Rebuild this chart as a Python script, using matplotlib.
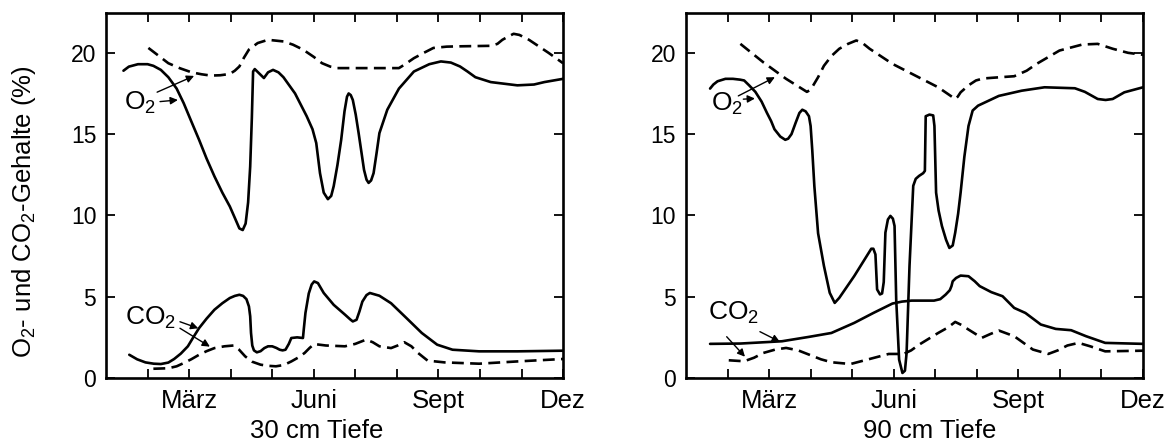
import matplotlib
matplotlib.use("Agg")
import matplotlib.pyplot as plt

plt.rcParams['font.family'] = ['Liberation Sans', 'DejaVu Sans']
plt.rcParams['mathtext.fontset'] = 'custom'
plt.rcParams['mathtext.rm'] = 'Liberation Sans'

# ---------- Month axis (0 = Jan ... 11 = Dez) ----------
month_ticks = list(range(1, 12))
month_labels = ['', 'März', '', '', 'Juni', '', '', 'Sept', '', '', 'Dez']
y_ticks = [0, 5, 10, 15, 20]

# ---------- 30 cm Tiefe ----------
o2_30_x = [0.42, 0.55, 0.77, 1.0, 1.14, 1.32, 1.5, 1.7, 1.87, 2.05, 2.24, 2.42, 2.61, 2.8, 2.98,
           3.1, 3.21, 3.29, 3.36, 3.42, 3.47, 3.51, 3.54, 3.58, 3.68, 3.8, 3.9, 4.02, 4.15,
           4.27, 4.55, 4.83, 4.97, 5.06, 5.15, 5.24, 5.34, 5.42, 5.48, 5.57, 5.66, 5.74, 5.8,
           5.84, 5.89, 5.94, 6.01, 6.08, 6.21, 6.27, 6.32, 6.38, 6.44, 6.51, 6.58, 6.77, 7.05,
           7.41, 7.78, 8.06, 8.3, 8.52, 8.7, 8.89, 9.26, 9.9, 10.3, 10.55, 11.0]
o2_30_y = [18.9, 19.15, 19.3, 19.3, 19.2, 18.95, 18.5, 17.8, 16.9, 15.8, 14.65, 13.5, 12.4, 11.4, 10.55,
           9.85, 9.2, 9.1, 9.5, 10.8, 13.0, 16.0, 18.85, 19.0, 18.75, 18.45, 18.8, 18.95, 18.8,
           18.5, 17.5, 16.1, 15.3, 14.45, 12.6, 11.4, 11.0, 11.2, 11.8, 13.1, 14.65, 16.4, 17.3,
           17.5, 17.4, 17.1, 16.2, 15.06, 12.8, 12.2, 12.0, 12.15, 12.6, 13.8, 15.06, 16.5, 17.8,
           18.85, 19.3, 19.47, 19.4, 19.16, 18.85, 18.5, 18.2, 18.0, 18.05, 18.2, 18.4]

o2d_30_x = [1.02, 1.25, 1.5, 1.78, 2.06, 2.3, 2.52, 2.75, 2.98, 3.1, 3.21, 3.32, 3.44, 3.65, 3.9,
            4.27, 4.5, 4.74, 5.0, 5.2, 5.4, 5.57, 6.3, 7.05, 7.2, 7.41, 7.65, 7.88, 8.2, 8.52,
            9.26, 9.42, 9.54, 9.68, 9.81, 9.95, 10.18, 10.65, 11.0]
o2d_30_y = [20.3, 19.85, 19.36, 19.05, 18.8, 18.68, 18.6, 18.62, 18.7, 18.9, 19.16, 19.7, 20.2, 20.6, 20.8,
            20.7, 20.5, 20.2, 19.75, 19.36, 19.15, 19.06, 19.06, 19.06, 19.3, 19.67, 20.0, 20.3, 20.38, 20.4,
            20.43, 20.55, 20.8, 21.0, 21.17, 21.1, 20.8, 20.0, 19.36]

co2_30_x = [0.56, 0.75, 0.95, 1.15, 1.32, 1.5, 1.64, 1.8, 1.97, 2.1, 2.24, 2.42, 2.61, 2.8, 2.98,
            3.1, 3.21, 3.3, 3.38, 3.44, 3.47, 3.49, 3.52, 3.56, 3.63, 3.72, 3.81, 3.9, 4.0,
            4.1, 4.18, 4.25, 4.32, 4.4, 4.46, 4.6, 4.74, 4.76, 4.8, 4.88, 4.95, 5.01, 5.1,
            5.24, 5.48, 5.75, 5.88, 5.94, 6.03, 6.1, 6.17, 6.27, 6.35, 6.58, 6.86, 7.23, 7.6,
            7.97, 8.34, 8.98, 9.9, 11.0]
co2_30_y = [1.43, 1.15, 0.96, 0.88, 0.86, 0.95, 1.17, 1.5, 1.95, 2.5, 3.07, 3.65, 4.2, 4.6, 4.92,
            5.05, 5.12, 5.05, 4.85, 4.4, 3.8, 2.77, 2.0, 1.7, 1.58, 1.65, 1.84, 1.95, 1.95,
            1.85, 1.74, 1.7, 1.74, 2.1, 2.46, 2.5, 2.46, 3.0, 4.0, 5.2, 5.75, 5.94, 5.84,
            5.23, 4.5, 3.9, 3.6, 3.48, 3.58, 4.1, 4.7, 5.1, 5.23, 5.06, 4.6, 3.69, 2.77,
            2.05, 1.74, 1.64, 1.64, 1.68]

co2d_30_x = [1.14, 1.5, 1.7, 1.87, 2.05, 2.24, 2.42, 2.61, 2.85, 3.07, 3.2, 3.35, 3.52, 3.72, 3.9,
             4.09, 4.28, 4.46, 4.62, 4.78, 4.9, 5.01, 5.29, 5.75, 6.0, 6.26, 6.42, 6.58, 6.86,
             7.02, 7.18, 7.35, 7.51, 7.74, 8.15, 8.98, 9.9, 11.0]
co2d_30_y = [0.57, 0.6, 0.72, 0.92, 1.15, 1.43, 1.65, 1.84, 1.95, 2.0, 1.75, 1.33, 1.0, 0.82, 0.75,
             0.72, 0.8, 1.02, 1.25, 1.54, 1.85, 2.09, 2.0, 1.95, 2.1, 2.36, 2.2, 1.95, 1.84,
             2.0, 2.2, 1.95, 1.54, 1.07, 0.96, 0.88, 1.02, 1.17]

# ---------- 90 cm Tiefe ----------
o2_90_x = [0.58, 0.66, 0.76, 0.95, 1.13, 1.3, 1.4, 1.52, 1.67, 1.82, 1.95, 2.05, 2.13, 2.27, 2.39,
           2.46, 2.54, 2.64, 2.73, 2.8, 2.88, 2.96, 3.0, 3.04, 3.09, 3.18, 3.32, 3.46, 3.58,
           3.69, 4.05, 4.46, 4.51, 4.56, 4.6, 4.67, 4.72, 4.76, 4.8, 4.86, 4.92, 4.98, 5.02,
           5.06, 5.13, 5.21, 5.27, 5.31, 5.38, 5.47, 5.53, 5.61, 5.71, 5.75, 5.77, 5.86, 5.95,
           5.98, 6.02, 6.08, 6.16, 6.26, 6.34, 6.42, 6.48, 6.55, 6.61, 6.7, 6.8, 6.9, 7.03,
           7.53, 8.08, 8.63, 9.36, 9.6, 9.91, 10.1, 10.27, 10.55, 11.0]
o2_90_y = [17.8, 18.05, 18.25, 18.4, 18.4, 18.35, 18.3, 18.0, 17.6, 17.0, 16.3, 15.8, 15.3, 14.85, 14.65,
           14.72, 15.0, 15.7, 16.3, 16.5, 16.4, 16.1, 15.5, 14.0, 11.8, 8.9, 6.9, 5.24, 4.62,
           4.93, 6.27, 7.95, 7.95, 7.6, 5.45, 5.14, 5.2, 5.9, 8.94, 9.75, 9.97, 9.8, 9.35,
           4.83, 1.13, 0.31, 0.45, 1.54, 6.88, 11.82, 12.25, 12.43, 12.6, 12.74, 16.1, 16.2, 16.15,
           15.5, 11.4, 10.3, 9.35, 8.5, 8.0, 8.15, 8.94, 10.1, 11.4, 13.6, 15.5, 16.45, 16.75,
           17.35, 17.67, 17.88, 17.82, 17.6, 17.16, 17.1, 17.16, 17.57, 17.88]

o2d_90_x = [1.31, 1.86, 2.41, 2.91, 2.98, 3.05, 3.18, 3.32, 3.5, 3.69, 3.9, 4.1, 4.25, 4.42, 4.97,
            5.52, 6.07, 6.48, 6.54, 6.61, 6.8, 6.98, 7.15, 7.35, 7.9, 8.2, 8.44, 8.99, 9.54,
            9.91, 10.27, 10.64, 11.0]
o2d_90_y = [20.55, 19.42, 18.4, 17.6, 17.7, 17.94, 18.5, 19.2, 19.8, 20.25, 20.55, 20.76, 20.6, 20.25, 19.32,
            18.6, 17.88, 17.16, 17.3, 17.57, 18.0, 18.3, 18.42, 18.46, 18.56, 18.9, 19.32, 20.14, 20.51,
            20.55, 20.25, 20.0, 19.88]

co2_90_x = [0.58, 1.31, 2.31, 2.96, 3.5, 4.05, 4.51, 4.97, 5.2, 5.43, 5.97, 6.12, 6.25, 6.35, 6.39,
            6.42, 6.5, 6.61, 6.8, 6.95, 7.07, 7.35, 7.62, 7.9, 8.17, 8.54, 8.9, 9.27, 9.63,
            10.09, 11.0]
co2_90_y = [2.1, 2.12, 2.26, 2.53, 2.77, 3.39, 4.0, 4.58, 4.7, 4.76, 4.76, 4.85, 5.13, 5.4, 5.65,
            5.95, 6.15, 6.3, 6.26, 5.95, 5.65, 5.28, 5.03, 4.31, 4.0, 3.29, 3.02, 2.94, 2.57,
            2.16, 2.1]

co2d_90_x = [1.03, 1.4, 1.64, 1.86, 2.15, 2.41, 2.7, 2.96, 3.25, 3.5, 3.96, 4.42, 4.88, 5.24, 5.42,
             5.61, 6.07, 6.3, 6.48, 6.64, 6.8, 7.12, 7.32, 7.53, 7.9, 8.35, 8.72, 8.95, 9.18,
             9.45, 9.73, 10.09, 11.0]
co2d_90_y = [1.09, 1.03, 1.25, 1.54, 1.75, 1.85, 1.7, 1.44, 1.15, 0.97, 0.86, 1.17, 1.48, 1.48, 1.7,
             2.05, 2.77, 3.1, 3.45, 3.25, 2.98, 2.47, 2.7, 2.92, 2.57, 1.75, 1.48, 1.7, 2.0,
             2.16, 1.95, 1.64, 1.68]

fig = plt.figure(figsize=(11.74, 4.43), dpi=100)
ax1 = fig.add_axes([0.0903, 0.1467, 0.3893, 0.824])
ax2 = fig.add_axes([0.5843, 0.1467, 0.3893, 0.824])

solid = dict(color='black', lw=1.9, solid_joinstyle='round', solid_capstyle='round')
dashed = dict(color='black', lw=1.9, linestyle=(0, (4.5, 2.4)))

ax1.plot(o2_30_x, o2_30_y, **solid)
ax1.plot(o2d_30_x, o2d_30_y, **dashed)
ax1.plot(co2_30_x, co2_30_y, **solid)
ax1.plot(co2d_30_x, co2d_30_y, **dashed)

ax2.plot(o2_90_x, o2_90_y, **solid)
ax2.plot(o2d_90_x, o2d_90_y, **dashed)
ax2.plot(co2_90_x, co2_90_y, **solid)
ax2.plot(co2d_90_x, co2d_90_y, **dashed)

arrow = dict(arrowstyle='-|>', color='black', lw=1.0, mutation_scale=11, shrinkA=0, shrinkB=0)

# labels with arrows to the curves
gas = dict(fontsize=19, ha='left', va='baseline')
ax1.text(0.44, 16.5, r'O$\mathregular{_2}$', **gas)
ax1.annotate('', xy=(2.12, 18.58), xytext=(1.23, 17.58), arrowprops=arrow)
ax1.annotate('', xy=(1.73, 17.1), xytext=(1.30, 17.0), arrowprops=arrow)
ax1.text(0.46, 3.26, r'CO$\mathregular{_2}$', **gas)
ax1.annotate('', xy=(2.22, 3.06), xytext=(1.78, 3.46), arrowprops=arrow)
ax1.annotate('', xy=(2.5, 1.93), xytext=(1.78, 3.06), arrowprops=arrow)

ax2.text(0.61, 16.43, r'O$\mathregular{_2}$', **gas)
ax2.annotate('', xy=(2.14, 18.5), xytext=(1.26, 17.35), arrowprops=arrow)
ax2.annotate('', xy=(1.66, 17.19), xytext=(1.38, 17.15), arrowprops=arrow)
ax2.text(0.53, 3.57, r'CO$\mathregular{_2}$', **gas)
ax2.annotate('', xy=(2.26, 2.23), xytext=(1.78, 2.85), arrowprops=arrow)
ax2.annotate('', xy=(1.42, 1.31), xytext=(0.98, 2.54), arrowprops=arrow)

for ax in (ax1, ax2):
    ax.set_xlim(0, 11)
    ax.set_ylim(0, 22.45)
    ax.set_xticks(month_ticks)
    ax.set_xticklabels(month_labels, fontsize=18.5)
    ax.set_yticks(y_ticks)
    ax.set_yticklabels([str(v) for v in y_ticks], fontsize=16.5)
    ax.tick_params(axis='both', direction='in', length=6.5, width=1.3,
                   top=True, right=True)
    ax.tick_params(axis='x', pad=8)
    ax.tick_params(axis='y', pad=7)
    for sp in ax.spines.values():
        sp.set_linewidth(1.9)

fig.text(317 / 1174, 1 - 431 / 443, '30 cm Tiefe', fontsize=18.5, ha='center', va='center')
fig.text(930 / 1174, 1 - 431 / 443, '90 cm Tiefe', fontsize=18.5, ha='center', va='center')
fig.text(24 / 1174, 1 - 212 / 443, r'O$\mathregular{_2}$- und CO$\mathregular{_2}$-Gehalte (%)',
         fontsize=18.5, rotation=90, ha='center', va='center')

fig.savefig('out.png', dpi=100)
